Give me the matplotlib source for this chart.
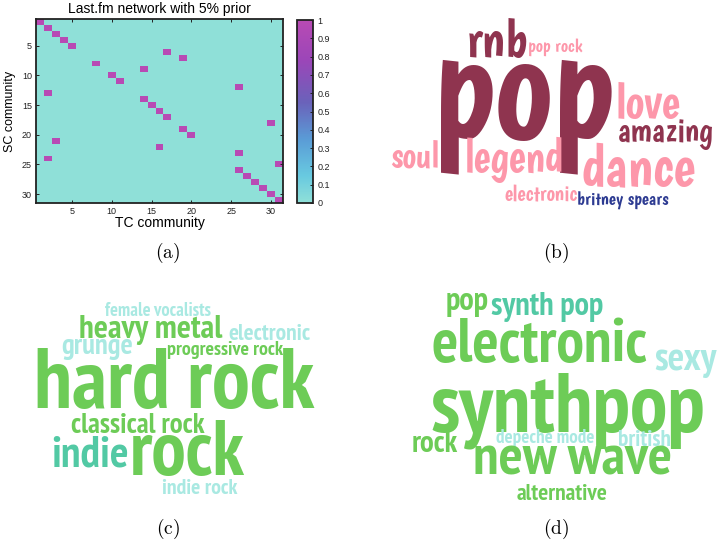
import numpy as np
import matplotlib
matplotlib.use("Agg")
import matplotlib.pyplot as plt
from matplotlib.colors import LinearSegmentedColormap
from matplotlib.font_manager import FontProperties
from matplotlib.textpath import TextPath

plt.rcParams['font.family'] = ['Liberation Sans', 'DejaVu Sans']
plt.rcParams['mathtext.fontset'] = 'cm'

# ---- (a) SC -> TC community matching, one TC community per SC row ----
n_comm = 31
sc_to_tc = [1, 2, 3, 4, 5, 17, 19, 8, 14, 10, 11, 26, 2, 14, 15, 16,
            17, 30, 19, 20, 3, 16, 26, 2, 31, 26, 27, 28, 29, 30, 31]
axis_ticks = [5, 10, 15, 20, 25, 30]
cbar_ticks = [0, 0.1, 0.2, 0.3, 0.4, 0.5, 0.6, 0.7, 0.8, 0.9, 1]
cbar_labels = ['0', '0.1', '0.2', '0.3', '0.4', '0.5', '0.6', '0.7', '0.8', '0.9', '1']

# ---- (b)-(d) tag clouds: words and colour group ----
words_b = ['pop', 'rnb', 'pop rock', 'love', 'amazing', 'soul', 'legend',
           'dance', 'electronic', 'britney spears']
tone_b = ['dark', 'dark', 'pink', 'pink', 'dark', 'pink', 'pink', 'pink', 'pink', 'blue']

words_c = ['female vocalists', 'heavy metal', 'electronic', 'grunge', 'progressive rock',
           'hard rock', 'classical rock', 'indie', 'rock', 'indie rock']
tone_c = ['light', 'green', 'light', 'light', 'green', 'green', 'green', 'teal', 'green', 'light']

words_d = ['pop', 'synth pop', 'electronic', 'sexy', 'synthpop', 'rock',
           'depeche mode', 'british', 'new wave', 'alternative']
tone_d = ['green', 'teal', 'green', 'light', 'green', 'green', 'light', 'light', 'green', 'green']

palette = {'dark': '#8f344f', 'pink': '#fd97aa', 'blue': '#2d3b92',
           'green': '#6dcc57', 'teal': '#52c9a4', 'light': '#a9e9e2'}

# word boxes (left, top, right, bottom) in figure pixels
box_b = [(441, 58, 612, 175), (469, 18, 527, 57), (529, 40, 582, 55), (618, 85, 680, 117),
         (619, 118, 713, 152), (391, 140, 438, 167), (467, 143, 563, 178), (583, 143, 695, 187),
         (505, 185, 578, 203), (578, 192, 668, 210)]
box_c = [(105, 302, 210, 317), (80, 317, 222, 342), (229, 323, 310, 340), (62, 338, 132, 362),
         (168, 342, 283, 358), (38, 348, 315, 410), (72, 412, 205, 433), (53, 435, 127, 467),
         (133, 422, 245, 475), (163, 478, 238, 495)]
box_d = [(447, 292, 488, 317), (492, 295, 603, 320), (433, 318, 647, 362), (655, 348, 717, 380),
         (432, 377, 703, 445), (413, 430, 458, 453), (496, 430, 593, 447), (619, 428, 670, 448),
         (475, 442, 670, 478), (517, 483, 607, 500)]

font_b = ['Boogaloo', 'Patrick Hand', 'DejaVu Sans']
font_cd = ['PT Sans Narrow', 'Roboto Condensed', 'DejaVu Sans']

W, H = 719, 546
DPI = 100

cmap = LinearSegmentedColormap.from_list('cyan_magenta', [
    (0.0, '#8fe0d8'), (0.15, '#68c9e0'), (0.35, '#5a9bd6'),
    (0.55, '#6a62ba'), (0.78, '#9b46b8'), (1.0, '#b84ab4')])

fig = plt.figure(figsize=(W / DPI, H / DPI), dpi=DPI)

# ---- (a) heat map ----
ax = fig.add_axes([36 / W, 1 - 203 / H, (283 - 36) / W, (203 - 19) / H])
match = np.zeros((n_comm, n_comm))
for row, col in enumerate(sc_to_tc):
    match[row, col - 1] = 1
im = ax.imshow(match, cmap=cmap, vmin=0, vmax=1, aspect='auto', interpolation='nearest',
               extent=(0.5, n_comm + 0.5, n_comm + 0.5, 0.5))
ax.set_xticks(axis_ticks)
ax.set_yticks(axis_ticks)
ax.tick_params(direction='in', top=True, right=True, labelsize=6.5, length=2.5,
               width=0.7, colors='#222222', pad=3)
for sp in ax.spines.values():
    sp.set_linewidth(1.3)
    sp.set_color('#222222')
ax.set_title('Last.fm network with 5% prior', fontsize=10, pad=4)
ax.set_xlabel('TC community', fontsize=10, labelpad=0)
ax.set_ylabel('SC community', fontsize=9, labelpad=4)

cax = fig.add_axes([297 / W, 1 - 203 / H, 16 / W, (203 - 20) / H])
cb = fig.colorbar(im, cax=cax, ticks=cbar_ticks)
cb.ax.set_yticklabels(cbar_labels)
cb.ax.tick_params(direction='in', labelsize=6.5, length=2.5, width=0.7, colors='#222222', pad=3)
cb.outline.set_linewidth(1.3)
cb.outline.set_edgecolor('#222222')

# ---- (b)-(d) tag clouds on a pixel-space overlay ----
wc = fig.add_axes([0, 0, 1, 1])
wc.set_xlim(0, W)
wc.set_ylim(H, 0)
wc.axis('off')


def place_word(text, box, color, family, weight):
    fp = FontProperties(family=family, weight=weight)
    ext = TextPath((0, 0), text, size=72, prop=fp).get_extents()
    left, top, right, bottom = box
    s = (right - left) / ext.width          # path units -> pixels
    size_pt = s * 72 * 72 / DPI
    x = left - ext.x0 * s
    y = (top + bottom) / 2 + (ext.y0 + ext.y1) / 2 * s
    wc.text(x, y, text, fontsize=size_pt, family=family, weight=weight,
            color=color, ha='left', va='baseline')


for w, t, b in zip(words_b, tone_b, box_b):
    place_word(w, b, palette[t], font_b, 'normal')
for w, t, b in zip(words_c, tone_c, box_c):
    place_word(w, b, palette[t], font_cd, 'bold')
for w, t, b in zip(words_d, tone_d, box_d):
    place_word(w, b, palette[t], font_cd, 'bold')

# panel labels
for lab, (px, py) in zip(['(a)', '(b)', '(c)', '(d)'],
                         [(168, 253), (556, 253), (168, 529), (556, 529)]):
    fig.text(px / W, 1 - py / H, r'$\mathrm{%s}$' % lab, fontsize=14,
             ha='center', va='center')

fig.savefig('out.png', dpi=DPI)
